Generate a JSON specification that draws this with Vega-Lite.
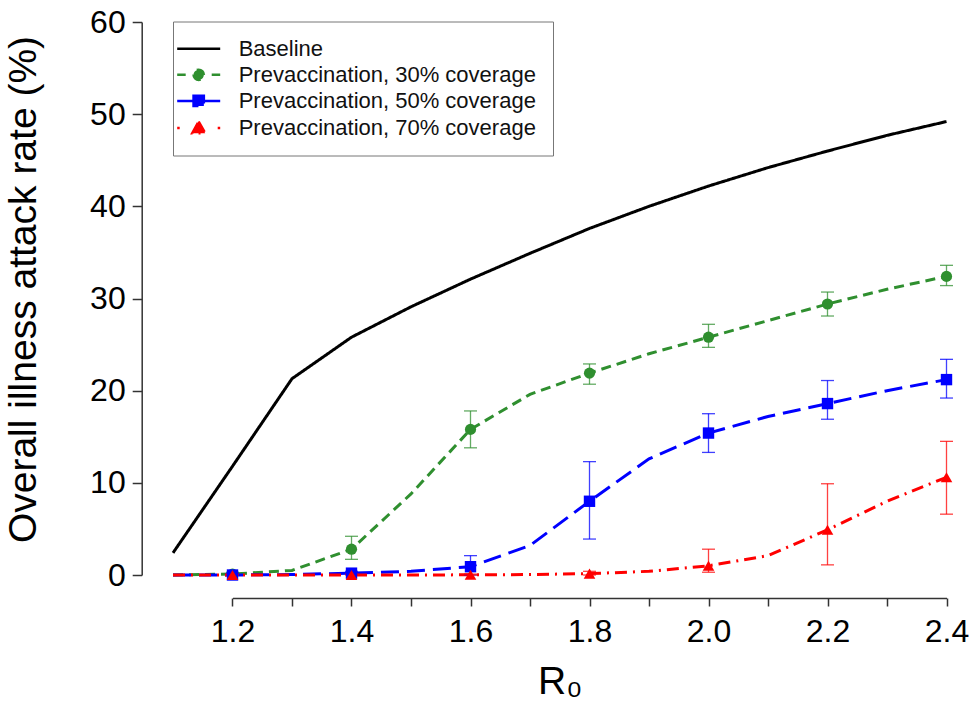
{
  "$schema": "https://vega.github.io/schema/vega-lite/v6.json",
  "width": 773.5,
  "height": 553,
  "autosize": {"type": "none"},
  "padding": {"left": 173, "top": 22, "right": 32.5, "bottom": 134},
  "background": "white",
  "config": {
    "view": {"stroke": null},
    "font": "Liberation Sans",
    "axis": {
      "grid": false,
      "domainColor": "#333333",
      "tickColor": "#333333",
      "domainWidth": 1.5,
      "tickWidth": 1.5,
      "labelColor": "#000000",
      "titleColor": "#000000",
      "labelFont": "Liberation Sans",
      "titleFont": "Liberation Sans",
      "labelFontSize": 32,
      "titleFontWeight": "normal"
    },
    "axisY": {
      "offset": 31.3,
      "tickSize": 9.5,
      "labelPadding": 7,
      "titleFontSize": 39,
      "titlePadding": 46,
      "titleY": 267
    }
  },
  "datasets": {
    "d": [
      {"s": "Baseline", "x": 1.1, "v": 2.4},
      {"s": "Baseline", "x": 1.2, "v": 11.8},
      {"s": "Baseline", "x": 1.3, "v": 21.3},
      {"s": "Baseline", "x": 1.4, "v": 25.8},
      {"s": "Baseline", "x": 1.5, "v": 29.1},
      {"s": "Baseline", "x": 1.6, "v": 32.1},
      {"s": "Baseline", "x": 1.7, "v": 34.9},
      {"s": "Baseline", "x": 1.8, "v": 37.6},
      {"s": "Baseline", "x": 1.9, "v": 40.0},
      {"s": "Baseline", "x": 2.0, "v": 42.2},
      {"s": "Baseline", "x": 2.1, "v": 44.2},
      {"s": "Baseline", "x": 2.2, "v": 46.0},
      {"s": "Baseline", "x": 2.3, "v": 47.7},
      {"s": "Baseline", "x": 2.4, "v": 49.2},
      {"s": "Prevaccination, 30% coverage", "x": 1.1, "v": 0.0},
      {"s": "Prevaccination, 30% coverage", "x": 1.2, "v": 0.1, "lo": 0.0, "hi": 0.3},
      {"s": "Prevaccination, 30% coverage", "x": 1.3, "v": 0.5},
      {"s": "Prevaccination, 30% coverage", "x": 1.4, "v": 2.8, "lo": 1.7, "hi": 4.2},
      {"s": "Prevaccination, 30% coverage", "x": 1.5, "v": 8.8},
      {"s": "Prevaccination, 30% coverage", "x": 1.6, "v": 15.8, "lo": 13.8, "hi": 17.8},
      {"s": "Prevaccination, 30% coverage", "x": 1.7, "v": 19.6},
      {"s": "Prevaccination, 30% coverage", "x": 1.8, "v": 21.9, "lo": 20.7, "hi": 22.9},
      {"s": "Prevaccination, 30% coverage", "x": 1.9, "v": 24.0},
      {"s": "Prevaccination, 30% coverage", "x": 2.0, "v": 25.8, "lo": 24.7, "hi": 27.2},
      {"s": "Prevaccination, 30% coverage", "x": 2.1, "v": 27.6},
      {"s": "Prevaccination, 30% coverage", "x": 2.2, "v": 29.4, "lo": 28.1, "hi": 30.7},
      {"s": "Prevaccination, 30% coverage", "x": 2.3, "v": 31.0},
      {"s": "Prevaccination, 30% coverage", "x": 2.4, "v": 32.4, "lo": 31.4, "hi": 33.6},
      {"s": "Prevaccination, 50% coverage", "x": 1.1, "v": 0.0},
      {"s": "Prevaccination, 50% coverage", "x": 1.2, "v": 0.0, "lo": 0.0, "hi": 0.2},
      {"s": "Prevaccination, 50% coverage", "x": 1.3, "v": 0.05},
      {"s": "Prevaccination, 50% coverage", "x": 1.4, "v": 0.2, "lo": 0.1, "hi": 0.4},
      {"s": "Prevaccination, 50% coverage", "x": 1.5, "v": 0.4},
      {"s": "Prevaccination, 50% coverage", "x": 1.6, "v": 0.9, "lo": 0.0, "hi": 2.1},
      {"s": "Prevaccination, 50% coverage", "x": 1.7, "v": 3.2},
      {"s": "Prevaccination, 50% coverage", "x": 1.8, "v": 8.0, "lo": 3.9, "hi": 12.3},
      {"s": "Prevaccination, 50% coverage", "x": 1.9, "v": 12.6},
      {"s": "Prevaccination, 50% coverage", "x": 2.0, "v": 15.4, "lo": 13.3, "hi": 17.5},
      {"s": "Prevaccination, 50% coverage", "x": 2.1, "v": 17.2},
      {"s": "Prevaccination, 50% coverage", "x": 2.2, "v": 18.6, "lo": 16.9, "hi": 21.1},
      {"s": "Prevaccination, 50% coverage", "x": 2.3, "v": 20.0},
      {"s": "Prevaccination, 50% coverage", "x": 2.4, "v": 21.2, "lo": 19.2, "hi": 23.4},
      {"s": "Prevaccination, 70% coverage", "x": 1.1, "v": 0.0},
      {"s": "Prevaccination, 70% coverage", "x": 1.2, "v": 0.0, "lo": 0.0, "hi": 0.1},
      {"s": "Prevaccination, 70% coverage", "x": 1.3, "v": 0.0},
      {"s": "Prevaccination, 70% coverage", "x": 1.4, "v": 0.0, "lo": 0.0, "hi": 0.1},
      {"s": "Prevaccination, 70% coverage", "x": 1.5, "v": 0.0},
      {"s": "Prevaccination, 70% coverage", "x": 1.6, "v": 0.02, "lo": 0.0, "hi": 0.1},
      {"s": "Prevaccination, 70% coverage", "x": 1.7, "v": 0.05},
      {"s": "Prevaccination, 70% coverage", "x": 1.8, "v": 0.15, "lo": 0.0, "hi": 0.4},
      {"s": "Prevaccination, 70% coverage", "x": 1.9, "v": 0.4},
      {"s": "Prevaccination, 70% coverage", "x": 2.0, "v": 1.0, "lo": 0.3, "hi": 2.8},
      {"s": "Prevaccination, 70% coverage", "x": 2.1, "v": 2.1},
      {"s": "Prevaccination, 70% coverage", "x": 2.2, "v": 4.9, "lo": 1.1, "hi": 9.9},
      {"s": "Prevaccination, 70% coverage", "x": 2.3, "v": 8.0},
      {"s": "Prevaccination, 70% coverage", "x": 2.4, "v": 10.6, "lo": 6.6, "hi": 14.5}
    ]
  },
  "data": {"name": "d"},
  "encoding": {
    "x": {
      "field": "x",
      "type": "quantitative",
      "title": "R₀",
      "scale": {"domain": [1.1, 2.4], "nice": false, "zero": false},
      "axis": {
        "values": [1.2, 1.3, 1.4, 1.5, 1.6, 1.7, 1.8, 1.9, 2.0, 2.1, 2.2, 2.3, 2.4],
        "labelExpr": "round(datum.value * 10) % 2 == 0 ? format(datum.value, '.1f') : ''",
        "offset": 23,
        "tickSize": 8,
        "labelPadding": 10,
        "labelFlush": false,
        "labelOverlap": false,
        "domainDash": [0, 59.5, 2000],
        "titleFontSize": 39,
        "titlePadding": 15
      }
    }
  },
  "layer": [
    {
      "mark": {"type": "line", "strokeWidth": 3},
      "encoding": {
        "y": {
          "field": "v",
          "type": "quantitative",
          "title": "Overall illness attack rate (%)",
          "scale": {"domain": [0, 60], "nice": false},
          "axis": {"values": [0, 10, 20, 30, 40, 50, 60]}
        },
        "color": {
          "field": "s",
          "type": "nominal",
          "scale": {
            "domain": ["Baseline", "Prevaccination, 30% coverage", "Prevaccination, 50% coverage", "Prevaccination, 70% coverage"],
            "range": ["#000000", "#2f8f2f", "#0000ff", "#ff0000"]
          },
          "legend": {
            "title": null,
            "orient": "none",
            "legendX": 0,
            "legendY": -0.5,
            "symbolSize": 100,
            "symbolStrokeWidth": 2.5,
            "symbolOffset": -1.5,
            "labelFontSize": 22,
            "labelFont": "Liberation Sans",
            "labelColor": "#111111",
            "labelOffset": 29,
            "labelLimit": 0,
            "rowPadding": 4.1,
            "padding": 16.2,
            "strokeColor": "#777777",
            "fillColor": "#ffffff",
            "encode": {
              "symbols": {
                "update": {
                  "shape": {"signal": "datum.value === 'Baseline' ? 'M-4.3,0H4.3' : datum.value === 'Prevaccination, 30% coverage' ? 'M-4.3,0H-2.6M2.6,0H4.3M-1.03,0A1.03,1.03,0,1,0,1.03,0A1.03,1.03,0,1,0,-1.03,0Z' : datum.value === 'Prevaccination, 50% coverage' ? 'M-4.3,0H4.3M-1.03,-1.03H1.03V1.03H-1.03Z' : 'M-4.3,0H-3.8M3.8,0H4.3M0,-1.3L1.3,1.03H-1.3Z'"},
                  "fill": {"signal": "scale('color', datum.value)"},
                  "stroke": {"signal": "scale('color', datum.value)"},
                  "strokeDash": {"value": [1, 0]},
                  "opacity": {"value": 1}
                }
              }
            }
          }
        },
        "strokeDash": {
          "field": "s",
          "type": "nominal",
          "scale": {
            "domain": ["Baseline", "Prevaccination, 30% coverage", "Prevaccination, 50% coverage", "Prevaccination, 70% coverage"],
            "range": [[1, 0], [10, 6], [18, 8], [12, 6, 2, 6]]
          },
          "legend": null
        }
      }
    },
    {
      "transform": [{"filter": "isValid(datum.lo)"}],
      "mark": {"type": "rule", "strokeWidth": 1.3, "opacity": 0.75},
      "encoding": {
        "y": {"field": "lo", "type": "quantitative", "title": "Overall illness attack rate (%)", "axis": {"values": [0, 10, 20, 30, 40, 50, 60]}},
        "y2": {"field": "hi"},
        "color": {"field": "s", "type": "nominal", "legend": null}
      }
    },
    {
      "transform": [{"filter": "isValid(datum.lo)"}],
      "mark": {"type": "tick", "orient": "horizontal", "size": 13, "thickness": 1.3, "opacity": 0.75},
      "encoding": {
        "y": {"field": "lo", "type": "quantitative", "title": "Overall illness attack rate (%)", "axis": {"values": [0, 10, 20, 30, 40, 50, 60]}},
        "color": {"field": "s", "type": "nominal", "legend": null}
      }
    },
    {
      "transform": [{"filter": "isValid(datum.lo)"}],
      "mark": {"type": "tick", "orient": "horizontal", "size": 13, "thickness": 1.3, "opacity": 0.75},
      "encoding": {
        "y": {"field": "hi", "type": "quantitative", "title": "Overall illness attack rate (%)", "axis": {"values": [0, 10, 20, 30, 40, 50, 60]}},
        "color": {"field": "s", "type": "nominal", "legend": null}
      }
    },
    {
      "transform": [{"filter": "isValid(datum.lo)"}],
      "mark": {"type": "point", "filled": true, "opacity": 1},
      "encoding": {
        "y": {"field": "v", "type": "quantitative", "title": "Overall illness attack rate (%)", "axis": {"values": [0, 10, 20, 30, 40, 50, 60]}},
        "color": {"field": "s", "type": "nominal", "legend": null},
        "shape": {
          "field": "s",
          "type": "nominal",
          "scale": {
            "domain": ["Prevaccination, 30% coverage", "Prevaccination, 50% coverage", "Prevaccination, 70% coverage"],
            "range": ["circle", "square", "triangle-up"]
          },
          "legend": null
        },
        "size": {
          "field": "s",
          "type": "nominal",
          "scale": {
            "domain": ["Prevaccination, 30% coverage", "Prevaccination, 50% coverage", "Prevaccination, 70% coverage"],
            "range": [125, 135, 196]
          },
          "legend": null
        }
      }
    }
  ]
}
